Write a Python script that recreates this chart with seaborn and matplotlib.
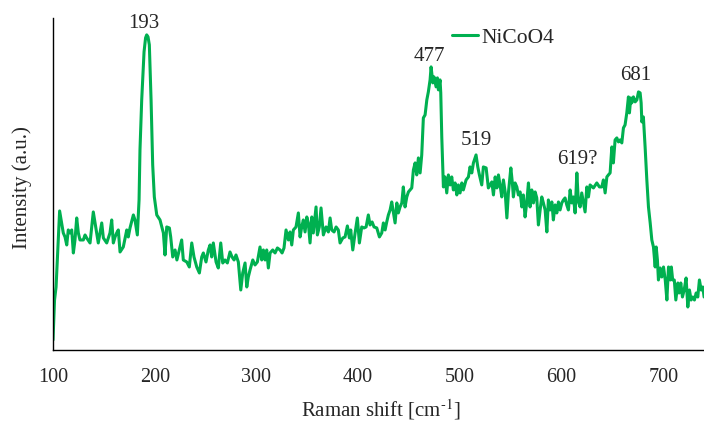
import matplotlib
matplotlib.use("Agg")
import matplotlib.pyplot as plt
import pandas as pd
import seaborn as sns


# -------------------- DATA --------------------
series_name = "NiCoO4"

shift = [
    100, 101.5, 103, 106.5, 110.1, 111.8, 113.5, 115, 116.7, 118.4, 120, 121.6, 123.3, 124.9,
    126.5, 129.8, 131.5, 133.1, 136.4, 139.6, 141.3, 144.5, 147.9, 149.5, 152.8, 156, 157.7,
    159.3, 161, 162.6, 164.2, 165.9, 169.1, 172.5, 174, 175.7, 179, 180.6, 182.9, 184.6, 185.5,
    187.2, 189.5, 191, 192.1, 193.4, 194.7, 196.4, 198, 199.6,
    202, 205.2, 208.5, 210.1, 211.8, 214.4, 215.7, 217.7, 220, 221.8, 224.2, 226.5, 228.1, 231.5,
    234, 236.4, 238.6, 241.3, 243.9, 246.2, 247.8, 250.4, 252.7, 254.4, 256, 257.6, 260.3, 262.5,
    264.9, 266.9, 269.1, 271.4, 274, 276, 278, 279.9, 282.2, 284.6, 286.5, 288.8, 290.5, 292,
    293.7, 296.4, 298.6, 300.9,
    303.5, 305.2, 306.8, 308.5, 310.1, 311.7, 313.4, 316, 318.3, 320.6, 323.2, 325.2, 327.1, 329.1,
    331.4, 333, 334.7, 336.3, 338.9, 341.2, 342.9, 344.5, 346.1, 347.8, 349.5, 351, 352.7, 354.4,
    355.9, 358.6, 359.9, 361.8, 363.5, 365.8, 368.4, 370.7, 372.4, 374, 376.3, 378.3, 380.5, 382.2,
    384.9, 387.1, 389.4, 391.4, 392.7, 394.7, 397, 399.2, 401.2, 403.5, 405.8, 407.8, 410, 411.7,
    413.7, 415.6, 418.3, 420.9,
    423.2, 424.8, 426.5, 428.1, 429.7, 431.4, 433, 434.6, 436.3, 438, 439.5, 441.2, 442.9, 444.4,
    446.1, 447.8, 449.4, 451, 452.7, 454.3, 456, 457.6, 459.2, 460.9, 462.5, 464.1, 465.8, 467.5,
    469, 470.7, 471.7, 473.4, 474.6, 476.6, 477.9, 478.9, 480.5, 481.2, 482.2, 483.8, 485.4, 487.1,
    488.7, 490.4, 492, 493.6, 495.3, 497, 498.5, 500.2, 501.9, 503.4, 506.1, 508.4, 510, 511.7,
    513.3, 515.9, 517.6, 519.2, 521.5, 523.1, 525.8, 528,
    531.4, 533, 534.7, 536.4, 537.9, 539.5, 541.2, 542.8, 544.5, 546.2, 547.7, 550.1, 551.6, 552.6,
    554.3, 556, 557.5, 559.2, 560.9, 562.4, 564.1, 565.8, 567.4, 569, 570.7, 572.3, 574, 575.6,
    577.2, 578.9, 580.5, 582.1, 583.8, 585.5, 587, 588.7, 590.4, 591.9, 593.6, 595.3, 596.9, 598.5,
    600.2, 601.8, 603.4, 605.1, 606.7, 608.4, 610, 611.6, 613.3, 615, 616.5, 618.2, 619.8, 621.4,
    623.1, 624.8, 626.4, 628, 631.3, 634.6, 637.2,
    639.5, 641.1, 642.8, 644.5, 646, 647.7, 649.4, 650.9, 652.6, 654.3, 655.9, 657.5, 659.2, 660.8,
    662.4, 664.1, 665.7, 666.7, 668, 669, 670.6, 672.3, 674, 675.6, 677.2, 678.2, 678.9, 680.4,
    682.1, 683.8, 685.4, 687.1, 688.7, 690.3, 692, 693, 694.2, 695.2, 696.9, 698.5, 700.2, 701.9,
    703.5, 705.1, 706.9, 707.9, 709.2, 710.8, 712.3, 714.3, 715.5, 717.2, 718.8, 720.5, 722.4,
    724.1, 725.7, 727.3, 729, 730.6, 732.3, 733.9, 735.5, 737.2, 738.8, 740.1,
]

intensity = [
    10, 50, 63, 139, 117, 113, 105, 120, 117, 120, 97, 110, 132, 117,
    110, 110, 115, 112, 107, 138, 127, 107, 127, 112, 107, 117, 130,
    107, 113, 117, 120, 98, 103, 120, 113, 122, 135, 130, 115, 150, 200,
    250, 298, 312, 315, 313, 305, 250, 185, 153,
    135, 130, 117, 95, 123, 122, 113, 93, 100, 90, 100, 110, 90, 88,
    83, 107, 93, 83, 77, 93, 97, 88, 100, 105, 93, 107, 88, 82,
    107, 87, 90, 87, 98, 93, 90, 95, 88, 60, 77, 87, 63, 73,
    80, 90, 85, 88,
    103, 90, 100, 90, 100, 82, 97, 100, 97, 102, 100, 97, 102, 120,
    110, 118, 105, 120, 123, 137, 113, 123, 130, 118, 133, 127, 107, 133,
    117, 143, 115, 123, 142, 115, 123, 118, 132, 120, 118, 123, 120, 107,
    112, 113, 124, 112, 120, 100, 117, 132, 107, 123, 122, 123, 135, 125,
    128, 123, 122, 113,
    117, 127, 120, 128, 135, 140, 148, 138, 127, 147, 137, 143, 147, 163,
    143, 153, 158, 160, 162, 180, 187, 175, 192, 177, 195, 232, 235, 250,
    258, 270, 283, 267, 273, 263, 272, 260, 270, 257, 213, 163, 173, 157,
    175, 165, 173, 160, 167, 155, 165, 157, 167, 160, 170, 173, 183, 177,
    187, 195, 183, 175, 165, 183, 182, 162,
    168, 155, 173, 162, 175, 165, 153, 170, 158, 132, 157, 182, 167, 153,
    167, 163, 155, 158, 143, 155, 133, 148, 167, 143, 160, 147, 158, 152,
    125, 140, 153, 147, 140, 118, 150, 140, 148, 130, 145, 137, 148, 140,
    147, 150, 152, 145, 140, 160, 147, 153, 137, 177, 148, 143, 157, 148,
    138, 163, 153, 165, 162, 167, 163,
    163, 170, 157, 173, 175, 177, 203, 187, 210, 212, 208, 210, 207, 222,
    225, 237, 253, 237, 252, 247, 253, 248, 250, 258, 257, 247, 228, 233,
    203, 170, 143, 127, 110, 103, 83, 103, 90, 70, 82, 73, 83, 70,
    50, 83, 70, 83, 70, 70, 50, 67, 57, 67, 53, 60, 72,
    43, 60, 50, 53, 50, 57, 53, 70, 60, 63, 53,
]

peak_labels = ["193", "477", "519", "619?", "681"]
x_ticks = [100, 200, 300, 400, 500, 600, 700]

df = pd.DataFrame({"shift": shift, "intensity": intensity})


# -------------------- STYLE --------------------
sns.set_style("white")
plt.rcParams["font.family"] = ["Liberation Serif", "DejaVu Serif"]
plt.rcParams["mathtext.fontset"] = "stix"


# -------------------- PLOT --------------------
fig = plt.figure(figsize=(7.04, 4.21), dpi=100)
ax = fig.add_axes([0.0753, 0.1686, 0.9247, 0.789])

sns.lineplot(data=df, x="shift", y="intensity", color="#00B050", linewidth=2.2,
             label=series_name, ax=ax)

ax.set_xlim(100, 740)
ax.set_ylim(0, 332)
ax.set_xticks(x_ticks)
ax.set_yticks([])
ax.tick_params(axis="x", direction="out", length=4, width=1, labelsize=14.5, color="black", pad=9)

for side in ["top", "right"]:
    ax.spines[side].set_visible(False)
for side in ["left", "bottom"]:
    ax.spines[side].set_color("black")
    ax.spines[side].set_linewidth(1.0)

ax.set_xlabel(r"Raman shift [cm$^{\text{-1}}$]", fontsize=15)
ax.set_ylabel("Intensity (a.u.)", fontsize=15)
ax.xaxis.set_label_coords(0.504, -0.142)
ax.yaxis.set_label_coords(-0.032, 0.49)

# peak labels (placed by hand, as in the original)
label_pos = [(189.5, 326), (469.7, 293), (516, 209), (615.2, 190), (673, 274.5)]
for txt, (px, py) in zip(peak_labels, label_pos):
    ax.text(px, py, txt, ha="center", va="center", fontsize=15)

ax.legend(loc="center left", bbox_to_anchor=(0.613, 0.94), frameon=False,
          borderpad=0, borderaxespad=0, handlelength=1.2, handletextpad=0.15,
          fontsize=15.5)

fig.savefig("out.png", dpi=100)
